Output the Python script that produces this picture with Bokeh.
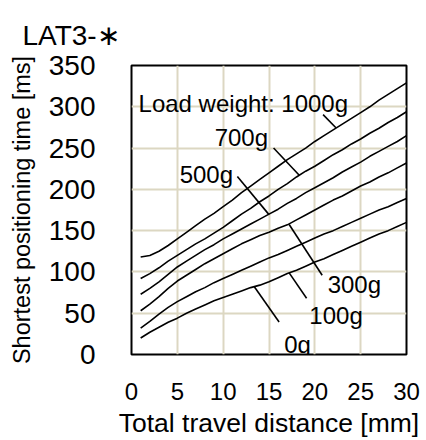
from bokeh.plotting import figure
from bokeh.models import Range1d, FixedTicker, ColumnDataSource
from bokeh.core.properties import value
from bokeh.embed import file_html
from bokeh.resources import INLINE

# ---- data ----
distance = [1, 2, 3, 4, 5, 6, 7, 8, 9, 10, 11, 12, 13, 14, 15,
            16, 17, 18, 19, 20, 21, 22, 23, 24, 25, 26, 27, 28, 29, 30]
time_1000g = [118, 120, 125, 132, 140, 148, 156, 164, 171, 179, 187, 196, 204, 212, 220,
              228, 236, 243, 250, 258, 265, 272, 279, 286, 293, 300, 308, 315, 322, 329]
time_700g = [92, 98, 105, 113, 120, 127, 134, 140, 147, 154, 162, 170, 177, 185, 192,
             200, 207, 215, 222, 228, 235, 242, 248, 255, 261, 268, 274, 281, 287, 294]
time_500g = [73, 80, 88, 97, 106, 113, 120, 127, 133, 140, 146, 152, 158, 164, 170,
             176, 183, 189, 196, 202, 208, 214, 221, 227, 233, 240, 246, 252, 258, 265]
time_300g = [53, 61, 70, 80, 89, 96, 103, 110, 116, 122, 128, 134, 139, 144, 148,
             153, 157, 163, 169, 175, 181, 187, 192, 198, 204, 209, 215, 220, 226, 232]
time_100g = [32, 40, 49, 57, 64, 70, 76, 81, 87, 92, 97, 102, 107, 112, 117,
             121, 126, 131, 136, 141, 146, 150, 155, 160, 165, 170, 175, 179, 184, 189]
time_0g = [20, 27, 33, 39, 44, 50, 55, 60, 65, 69, 73, 77, 81, 84, 88,
           93, 98, 102, 107, 112, 116, 121, 126, 131, 136, 141, 146, 150, 155, 160]

x_ticks = [0, 5, 10, 15, 20, 25, 30]
y_ticks = [0, 50, 100, 150, 200, 250, 300, 350]

label_text = ["Load weight: 1000g", "700g", "500g", "300g", "100g", "0g"]
label_x = [0.77, 9.07, 5.25, 21.4, 19.4, 16.65]
label_y = [303.6, 263.0, 217.9, 84.2, 47.3, 12.7]

leader_x0 = [20.9, 15.5, 11.55, 17.2, 17.2, 13.4]
leader_y0 = [290.5, 250.0, 215.5, 157.5, 98.8, 82.0]
leader_x1 = [22.3, 18.3, 15.0, 20.8, 19.1, 16.1]
leader_y1 = [274.6, 217.0, 169.4, 96.0, 68.2, 39.3]

title_text = "LAT3-\u2217"
x_title = "Total travel distance [mm]"
y_title = "Shortest positioning time [ms]"

FONT = "Liberation Sans"

p = figure(width=426, height=440, output_backend="svg", toolbar_location=None,
           x_range=Range1d(0, 30), y_range=Range1d(0, 350),
           min_border_left=131, min_border_right=20,
           min_border_top=65, min_border_bottom=81)

p.background_fill_color = "white"
p.border_fill_color = "white"
p.outline_line_color = "black"
p.outline_line_width = 2

# grid
p.xaxis.ticker = FixedTicker(ticks=x_ticks)
p.yaxis.ticker = FixedTicker(ticks=y_ticks)
for g in (p.xgrid, p.ygrid):
    g.grid_line_color = "#dcd7c2"
    g.grid_line_width = 2

# axes
for ax in (p.xaxis, p.yaxis):
    ax.axis_line_color = None
    ax.major_tick_line_color = None
    ax.minor_tick_line_color = None
    ax.major_label_text_font = FONT
    ax.major_label_text_color = "black"
    ax.axis_label_text_font = FONT
    ax.axis_label_text_font_style = "normal"
    ax.axis_label_text_color = "black"

p.xaxis.major_label_text_font_size = "24px"
p.yaxis.major_label_text_font_size = "28px"
p.xaxis.axis_label = x_title
p.yaxis.axis_label = y_title
p.xaxis.axis_label_text_font_size = "26.5px"
p.yaxis.axis_label_text_font_size = "23.5px"
p.xaxis.major_label_standoff = 22
p.yaxis.major_label_standoff = 30
p.xaxis.axis_label_standoff = 5
p.yaxis.axis_label_standoff = 11

# title
p.title.text = title_text
p.title.text_font = FONT
p.title.text_font_size = "28px"
p.title.text_font_style = "normal"
p.title.text_color = "black"
p.title.align = "left"
p.title.offset = -109
p.title.vertical_align = "bottom"
p.title.standoff = 30

# curves
for ys in (time_1000g, time_700g, time_500g, time_300g, time_100g, time_0g):
    p.line(distance, ys, line_color="black", line_width=1.6)

# leaders
p.segment(x0=leader_x0, y0=leader_y0, x1=leader_x1, y1=leader_y1,
          line_color="black", line_width=1.6)

# labels
src = ColumnDataSource(dict(x=label_x, y=label_y, t=label_text))
p.text(x="x", y="y", text="t", source=src, text_font=value(FONT),
       text_font_size="24px", text_color="black",
       text_baseline="alphabetic", text_align="left")

open("out.html", "w").write(file_html(p, INLINE))
